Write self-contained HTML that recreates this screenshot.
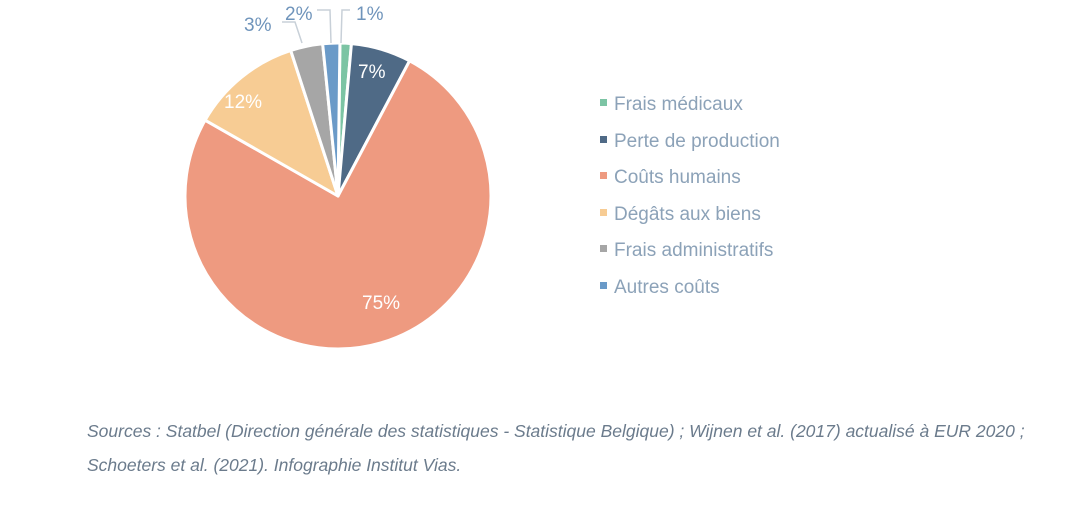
<!DOCTYPE html>
<html><head><meta charset="utf-8"><style>
body{margin:0;background:#fff;width:1090px;height:500px;overflow:hidden;font-family:"Liberation Sans",sans-serif}
</style></head><body>
<svg id="s" width="1090" height="500" xmlns="http://www.w3.org/2000/svg">
<g id="pie"></g>
<g fill="none" stroke="#c8d0d8" stroke-width="1.5">
<polyline points="282,22 295,22 302,43"/>
<polyline points="317,10 330,10 331,43"/>
<polyline points="350,10 342,10 341,43"/>
</g>
<g font-size="19" fill="#6f94bb">
<text x="244" y="31">3%</text>
<text x="285" y="20">2%</text>
<text x="356" y="20">1%</text>
</g>
<g font-size="19" fill="#fff">
<text x="358" y="78">7%</text>
<text x="224" y="108">12%</text>
<text x="362" y="309">75%</text>
</g>
<g font-size="19" fill="#8ca2b8">
<rect x="600" y="99" width="7" height="7" fill="#7cc4a4"/><text x="614" y="110">Frais médicaux</text>
<rect x="600" y="136" width="7" height="7" fill="#4f6a86"/><text x="614" y="147">Perte de production</text>
<rect x="600" y="172" width="7" height="7" fill="#ee9a80"/><text x="614" y="183">Coûts humains</text>
<rect x="600" y="209" width="7" height="7" fill="#f7cc94"/><text x="614" y="220">Dégâts aux biens</text>
<rect x="600" y="245" width="7" height="7" fill="#a6a6a6"/><text x="614" y="256">Frais administratifs</text>
<rect x="600" y="282" width="7" height="7" fill="#6a9ac8"/><text x="614" y="293">Autres coûts</text>
</g>
<g font-size="17.5" font-style="italic" fill="#6b7b8c">
<text x="87" y="437">Sources : Statbel (Direction générale des statistiques - Statistique Belgique) ; Wijnen et al. (2017) actualisé à EUR 2020 ;</text>
<text x="87" y="471">Schoeters et al. (2021). Infographie Institut Vias.</text>
</g>
</svg>
<script>
var cx=338,cy=196,r=153;
var sl=[[0.002,0.014,"#7cc4a4"],[0.014,0.0775,"#4f6a86"],[0.0775,0.8325,"#ee9a80"],[0.8325,0.950,"#f7cc94"],[0.950,0.984,"#a6a6a6"],[0.984,1.002,"#6a9ac8"]];
var g=document.getElementById("pie"),h="";
function pt(f){var a=f*2*Math.PI;return (cx+r*Math.sin(a)).toFixed(2)+","+(cy-r*Math.cos(a)).toFixed(2);}
sl.forEach(function(s){var large=(s[1]-s[0])>0.5?1:0;
h+='<path d="M'+cx+','+cy+' L'+pt(s[0])+' A'+r+','+r+' 0 '+large+' 1 '+pt(s[1])+' Z" fill="'+s[2]+'" stroke="#fff" stroke-width="3" stroke-linejoin="round"/>';});
g.innerHTML=h;
</script>
</body></html>
